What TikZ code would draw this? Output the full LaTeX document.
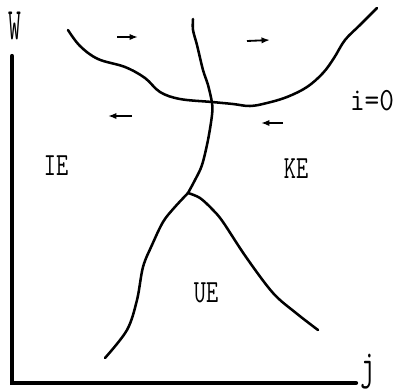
\documentclass[tikz,border=0pt]{standalone}
\usepackage{graphicx}
\usepackage{tikz}
\usetikzlibrary{arrows.meta}
\newcommand{\narrowtext}[2]{\scalebox{#1}[1]{#2}}
\tikzset{
  axis/.style={line width=3pt, line cap=round},
  border/.style={line width=1.8pt, line cap=round, line join=round},
  flow/.style={-{Latex[length=6pt,width=4.5pt]}, line width=1.3pt},
  region/.style={font=\ttfamily\fontsize{23}{24}\selectfont, inner sep=0pt},
}
\begin{document}
\begin{tikzpicture}[x=0.025cm, y=-0.025cm]
  \useasboundingbox (0,0) rectangle (396,390);

  % axes
  \coordinate (origin) at (12,383);
  \coordinate (wtop) at (12,56);
  \coordinate (jend) at (356,383);
  \draw[axis] (wtop) -- (origin) -- (jend);
  \node[region, font=\ttfamily\fontsize{32}{33}\selectfont] (wlab) at (15,26) {\narrowtext{0.55}{W}};
  \node[region, font=\ttfamily\fontsize{30}{31}\selectfont] (jlab) at (368,372) {\narrowtext{0.7}{j}};

  % i-dot = 0 curve
  \draw[border] plot[smooth, tension=0.6] coordinates {
    (68,30) (80,46) (98,59) (125,67) (145,78) (160,92)
    (180,99) (212,102) (233,104) (250,106) (267,103)
    (287,97) (307,87) (323,73) (334,58) (345,40) (360,25) (377,8)};

  % separatrix
  \coordinate (junction) at (188,193);
  \draw[border] plot[smooth, tension=0.55] coordinates {
    (193,19) (193,30) (197,45) (203,70) (208,85) (212,103) (212,115)
    (208,140) (202,165) (195,180) (188,193)};
  \draw[border] plot[smooth, tension=0.55] coordinates {
    (188,193) (174,208) (163,222) (152,245) (143,267) (137,300) (127,330) (105,358)};
  \draw[border] plot[smooth, tension=0.55] coordinates {
    (188,193) (200,198) (213,210) (223,222) (246,257) (273,293) (296,313) (318,330)};

  % flow arrows
  \draw[flow] (117,37) -- (138,37);
  \draw[flow] (247,41) -- (270,40);
  \draw[flow] (132,116) -- (108,116);
  \draw[flow] (283,123) -- (261,123);

  % regions
  \node[region] (ie) at (56,166) {\narrowtext{0.73}{IE}};
  \node[region] (ke) at (296,169) {\narrowtext{0.73}{KE}};
  \node[region] (ue) at (206,293) {\narrowtext{0.73}{UE}};
  \node[region] (idot) at (372,101) {\narrowtext{0.88}{i=0}};
\end{tikzpicture}
\end{document}
